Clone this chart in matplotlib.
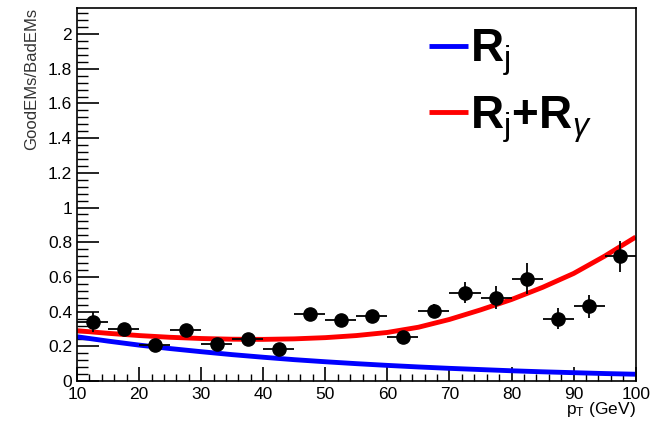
import matplotlib
matplotlib.use("Agg")
import matplotlib.pyplot as plt
from matplotlib.ticker import MultipleLocator
import numpy as np

plt.rcParams["font.family"] = ["Liberation Sans", "DejaVu Sans"]
plt.rcParams["mathtext.fontset"] = "custom"
plt.rcParams["mathtext.rm"] = "Liberation Sans"
plt.rcParams["mathtext.bf"] = "Liberation Sans:bold"
plt.rcParams["mathtext.it"] = "Liberation Sans:italic"

# ─── data ───
pt = [12.5, 17.5, 22.5, 27.5, 32.5, 37.5, 42.5, 47.5, 52.5, 57.5,
      62.5, 67.5, 72.5, 77.5, 82.5, 87.5, 92.5, 97.5]
ratio = [0.34, 0.30, 0.205, 0.295, 0.215, 0.24, 0.185, 0.385, 0.352, 0.375,
         0.255, 0.405, 0.51, 0.48, 0.59, 0.36, 0.43, 0.72]
ratio_err = [0.055, 0.03, 0.03, 0.03, 0.03, 0.03, 0.03, 0.03, 0.03, 0.03,
             0.03, 0.04, 0.06, 0.065, 0.09, 0.06, 0.065, 0.09]
pt_err = [2.5] * len(pt)

curve_pt = [10, 15, 20, 25, 30, 35, 40, 45, 50, 55, 60, 65, 70, 75, 80, 85, 90, 95, 100]
rj = [0.255, 0.23, 0.207, 0.187, 0.169, 0.152, 0.137, 0.123, 0.111, 0.100,
      0.090, 0.081, 0.073, 0.066, 0.059, 0.053, 0.048, 0.043, 0.039]
rj_rg = [0.29, 0.275, 0.262, 0.252, 0.245, 0.241, 0.240, 0.243, 0.250, 0.262,
         0.28, 0.31, 0.355, 0.41, 0.47, 0.54, 0.62, 0.72, 0.83]

fig = plt.figure(figsize=(6.5, 4.21), dpi=100)
ax = fig.add_axes([0.1185, 0.095, 0.8595, 0.887])

ax.plot(curve_pt, rj, color="#0000ff", linewidth=3.5, label=r"$\mathbf{R}_{\mathrm{j}}$",
        solid_capstyle="butt", zorder=2)
ax.plot(curve_pt, rj_rg, color="#ff0000", linewidth=3.5,
        label=r"$\mathbf{R}_{\mathrm{j}}\mathbf{+R}_{\gamma}$", solid_capstyle="butt", zorder=2)
ax.errorbar(pt, ratio, xerr=pt_err, yerr=ratio_err, fmt="o", color="black",
            markersize=9.5, elinewidth=1.3, capsize=0, zorder=3)

ax.set_xlim(10, 100)
ax.set_ylim(0, 2.153)
ax.xaxis.set_major_locator(MultipleLocator(10))
ax.xaxis.set_minor_locator(MultipleLocator(2))
ax.yaxis.set_minor_locator(MultipleLocator(0.04))
ax.set_yticks(np.arange(0, 2.01, 0.2))
ax.set_yticklabels(["0", "0.2", "0.4", "0.6", "0.8", "1", "1.2", "1.4", "1.6", "1.8", "2"])
ax.tick_params(axis="y", which="major", direction="in", length=16, width=1.2, labelsize=12.5)
ax.tick_params(axis="y", which="minor", direction="in", length=8, width=1.0)
ax.tick_params(axis="x", which="major", direction="in", length=10, width=1.2, labelsize=12.5, pad=4)
ax.tick_params(axis="x", which="minor", direction="in", length=5, width=1.0)
for s in ax.spines.values():
    s.set_linewidth(1.2)

ax.set_ylabel("GoodEMs/BadEMs", fontsize=12, loc="top", labelpad=6, color="#333333")
ax.set_xlabel(r"p$_{\mathrm{T}}$ (GeV)", fontsize=12.5, loc="right", labelpad=-1)

leg = ax.legend(loc="upper right", fontsize=33, frameon=False, handlelength=0.85,
                handletextpad=0.05, labelspacing=0.35, borderaxespad=0.0,
                bbox_to_anchor=(0.955, 0.995))
for l in leg.get_lines():
    l.set_linewidth(3.5)

fig.savefig("out.png", dpi=100)
